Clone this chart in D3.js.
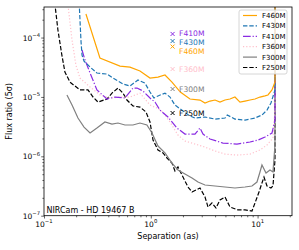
<!DOCTYPE html>
<html>
<head>
<meta charset="utf-8">
<script src="https://cdn.jsdelivr.net/npm/d3@7"></script>
<style>
body { margin: 0; background: #fff; }
text { font-family: "DejaVu Sans", sans-serif; }
</style>
</head>
<body>
<div id="chart"></div>
<script>
var width = 299;
var height = 250;
var margin = {top: 7, right: 7, bottom: 34.3, left: 44};

// filters, in legend order
var filters = ["F460M", "F430M", "F410M", "F360M", "F300M", "F250M"];
var colors = ["#ffa500", "#1f77b4", "#8a2be2", "#ffc0cb", "#808080", "#000000"];
var dashes = [null, "4.4,1.9", "7.7,1.9,1.2,1.9", "1.2,2", null, "4.4,1.9"];

// contrast curves (separation in arcsec, 5 sigma flux ratio)
var sepF460M = [0.247, 0.334, 0.515, 0.638, 0.792, 0.983, 1.168, 1.358, 1.579, 1.89, 2.328, 2.888, 3.217, 3.582, 3.992, 4.446, 4.953, 5.515, 6.138, 6.84, 7.62, 8.49, 9.46, 10.53, 11.73, 12.51, 13.64, 14.55, 14.6];
var fluxF460M = [2.49e-4, 4.52e-5, 3.31e-5, 3.18e-5, 2.73e-5, 2.08e-5, 2.16e-5, 2.34e-5, 1.78e-5, 1.21e-5, 9.22e-6, 8.87e-6, 7.89e-6, 8.53e-6, 8.87e-6, 8.2e-6, 8.87e-6, 9.22e-6, 9.96e-6, 8.2e-6, 8.53e-6, 8.87e-6, 9.22e-6, 9.96e-6, 1.04e-5, 1.08e-5, 1.31e-5, 1.78e-5, 1e-2];

var sepF430M = [0.212, 0.222, 0.227, 0.237, 0.27, 0.313, 0.389, 0.443, 0.549, 0.638, 0.759, 0.882, 0.983, 1.071, 1.168, 1.358, 1.513, 1.685, 2.002, 2.328, 2.594, 3.217, 3.992, 4.953, 5.2, 6.138, 7.62, 9.46, 10.99, 12.25, 13.34, 14.55, 14.6];
var fluxF430M = [5e-4, 8.73e-5, 5.07e-5, 4.02e-5, 3.18e-5, 2.53e-5, 2.43e-5, 2.08e-5, 1.65e-5, 1.53e-5, 1.93e-5, 1.71e-5, 1.21e-5, 9.58e-6, 1.04e-5, 1.16e-5, 9.96e-6, 7.3e-6, 5.79e-6, 4.77e-6, 4.41e-6, 4.59e-6, 4.24e-6, 4.41e-6, 4.96e-6, 4.24e-6, 4.08e-6, 4.41e-6, 4.96e-6, 6.01e-6, 7.89e-6, 1.31e-5, 1e-2];

var sepF410M = [0.227, 0.242, 0.27, 0.313, 0.389, 0.462, 0.573, 0.681, 0.743, 0.845, 0.983, 1.095, 1.219, 1.449, 1.758, 2.089, 2.594, 2.888, 3.083, 3.582, 4.742, 6.412, 8.49, 10.09, 11.73, 13.64, 14.55, 14.6];
var fluxF410M = [6.17e-5, 4.18e-5, 2.53e-5, 1.31e-5, 9.22e-6, 9.96e-6, 9.58e-6, 1.41e-5, 1.41e-5, 1.26e-5, 9.58e-6, 8.2e-6, 6.01e-6, 4.59e-6, 2.99e-6, 2.37e-6, 2.37e-6, 2.99e-6, 2.37e-6, 1.96e-6, 1.67e-6, 1.61e-6, 1.74e-6, 1.88e-6, 2.11e-6, 2.47e-6, 4.08e-6, 1e-2];

var sepF360M = [0.164, 0.183, 0.199, 0.217, 0.27, 0.334, 0.415, 0.515, 0.638, 0.792, 0.983, 1.143, 1.301, 1.513, 1.797, 2.089, 2.432, 3.217, 3.992, 4.953, 6.412, 8.49, 10.53, 12.25, 13.93, 14.55, 14.6];
var fluxF360M = [5e-4, 9.08e-5, 3.44e-5, 2.08e-5, 1.47e-5, 1.08e-5, 9.58e-6, 9.96e-6, 9.96e-6, 1.16e-5, 7.3e-6, 6.5e-6, 5.57e-6, 3.78e-6, 2.28e-6, 1.81e-6, 1.67e-6, 1.43e-6, 1.23e-6, 1.09e-6, 1.05e-6, 1.09e-6, 1.28e-6, 1.55e-6, 2.03e-6, 6.01e-6, 1e-2];

var sepF300M = [0.164, 0.183, 0.208, 0.237, 0.27, 0.313, 0.372, 0.433, 0.493, 0.573, 0.681, 0.792, 0.92, 1.026, 1.168, 1.358, 1.579, 1.797, 2.089, 2.432, 2.767, 3.217, 3.992, 4.953, 6.138, 7.62, 8.86, 9.87, 10.53, 10.99, 11.99, 13.06, 13.93, 14.55, 14.6];
var fluxF300M = [1.08e-5, 7.3e-6, 4.41e-6, 3.11e-6, 2.47e-6, 2.99e-6, 3.78e-6, 3.5e-6, 3.64e-6, 3.37e-6, 3.37e-6, 3.64e-6, 3.37e-6, 2.47e-6, 1.49e-6, 1.14e-6, 7.71e-7, 5.88e-7, 5.04e-7, 4.31e-7, 3.69e-7, 3.29e-7, 3.16e-7, 3.04e-7, 2.93e-7, 3.04e-7, 3.16e-7, 3.69e-7, 5.44e-7, 7.14e-7, 5.24e-7, 5.88e-7, 5.44e-7, 1.55e-6, 1e-2];

var sepF250M = [0.124, 0.135, 0.147, 0.157, 0.175, 0.217, 0.258, 0.288, 0.32, 0.389, 0.433, 0.493, 0.549, 0.598, 0.681, 0.792, 0.902, 0.983, 1.049, 1.168, 1.301, 1.418, 1.579, 1.685, 1.797, 2.002, 2.23, 2.432, 2.65, 2.888, 3.217, 3.433, 3.741, 4.078, 4.446, 4.953, 5.515, 6.554, 7.62, 8.86, 9.46, 10.31, 10.99, 11.48, 12.25, 13.34, 13.93, 14.55, 14.6];
var fluxF250M = [5e-4, 1.34e-4, 5.07e-5, 2.63e-5, 1.78e-5, 1.31e-5, 1.31e-5, 9.96e-6, 8.2e-6, 9.22e-6, 1.16e-5, 1.41e-5, 1.16e-5, 8.87e-6, 7.03e-6, 6.76e-6, 5.57e-6, 3.78e-6, 1.88e-6, 1.28e-6, 1.14e-6, 9.36e-7, 7.71e-7, 5.66e-7, 6.61e-7, 4.48e-7, 3.04e-7, 2.51e-7, 2.71e-7, 2.93e-7, 2.07e-7, 1.4e-7, 1.64e-7, 1.35e-7, 1.84e-7, 2.07e-7, 1.4e-7, 1.25e-7, 1.25e-7, 1.2e-7, 1.64e-7, 2.51e-7, 3.55e-7, 4.48e-7, 3.16e-7, 2.93e-7, 3.16e-7, 8.67e-7, 1e-2];

// HD 19467 B flux ratio per filter (same order as filters)
var planetSep = 1.6;
var planetFlux = [7.05e-5, 8.73e-5, 1.15e-4, 2.95e-5, 1.36e-5, 5.36e-6];

var xMajor = [0.1, 1, 10];
var xMajorLabels = ["\u22121", "0", "1"];
var yMajor = [1e-7, 1e-6, 1e-5, 1e-4];
var yMajorLabels = ["\u22127", "\u22126", "\u22125", "\u22124"];

var seps = [sepF460M, sepF430M, sepF410M, sepF360M, sepF300M, sepF250M];
var fluxes = [fluxF460M, fluxF430M, fluxF410M, fluxF360M, fluxF300M, fluxF250M];
var series = filters.map(function(f, i){
    return {name: f, color: colors[i], dash: dashes[i],
        points: seps[i].map(function(s, j){ return [s, fluxes[i][j]]; })};
});

var svg = d3.select("#chart")
    .append("svg")
    .attr("width", width)
    .attr("height", height);

var x = d3.scaleLog().domain([0.1, 21]).range([margin.left, width - margin.right]);
var y = d3.scaleLog().domain([1e-7, 3.27e-4]).range([height - margin.bottom, margin.top]);

svg.append("clipPath").attr("id", "clip")
    .append("rect")
    .attr("x", margin.left).attr("y", margin.top)
    .attr("width", width - margin.left - margin.right)
    .attr("height", height - margin.top - margin.bottom);

// minor ticks
function minors(lo, hi){
    var out = [];
    for (var e = Math.floor(Math.log10(lo)); e <= Math.ceil(Math.log10(hi)); e++){
        for (var m = 2; m <= 9; m++){
            var v = m * Math.pow(10, e);
            if (v >= lo && v <= hi) out.push(v);
        }
    }
    return out;
}

var xAxisG = svg.append("g").attr("transform", "translate(0," + y.range()[0] + ")");
xAxisG.append("g").call(d3.axisBottom(x).tickValues(minors(0.1, 21)).tickSize(1.6).tickFormat(""));
xAxisG.append("g").call(d3.axisBottom(x).tickValues(xMajor).tickSize(2.8).tickFormat(""));
xAxisG.selectAll(".domain").remove();
xAxisG.selectAll("line").attr("stroke", "#000").attr("stroke-width", 0.6);

var yAxisG = svg.append("g").attr("transform", "translate(" + x.range()[0] + ",0)");
yAxisG.append("g").call(d3.axisLeft(y).tickValues(minors(1e-7, 3.27e-4)).tickSize(1.6).tickFormat(""));
yAxisG.append("g").call(d3.axisLeft(y).tickValues(yMajor).tickSize(2.8).tickFormat(""));
yAxisG.selectAll(".domain").remove();
yAxisG.selectAll("line").attr("stroke", "#000").attr("stroke-width", 0.6);

// tick labels with superscript exponents
xMajor.forEach(function(v, i){
    var t = svg.append("text")
        .attr("x", x(v)).attr("y", 226.5)
        .attr("text-anchor", "middle")
        .attr("font-size", "7.5px");
    t.append("tspan").text("10");
    t.append("tspan").attr("dy", -3.5).attr("font-size", "5.3px").text(xMajorLabels[i]);
});
yMajor.forEach(function(v, i){
    var t = svg.append("text")
        .attr("x", 40).attr("y", y(v) + 3)
        .attr("text-anchor", "end")
        .attr("font-size", "7.5px");
    t.append("tspan").text("10");
    t.append("tspan").attr("dy", -3.5).attr("font-size", "5.3px").text(yMajorLabels[i]);
});

svg.append("text")
    .attr("x", (x.range()[0] + x.range()[1]) / 2).attr("y", 239)
    .attr("text-anchor", "middle")
    .attr("font-size", "8px")
    .text("Separation (as)");

svg.append("text")
    .attr("transform", "translate(12," + (y.range()[0] + y.range()[1]) / 2 + ") rotate(-90)")
    .attr("text-anchor", "middle")
    .attr("font-size", "8px")
    .text("Flux ratio (5\u03c3)");

// contrast curves
var line = d3.line()
    .x(function(d){ return x(d[0]); })
    .y(function(d){ return y(d[1]); });

svg.append("g").attr("clip-path", "url(#clip)")
    .selectAll("path")
    .data(series.slice().reverse())
    .enter()
    .append("path")
    .attr("d", function(d){ return line(d.points); })
    .attr("fill", "none")
    .attr("stroke", function(d){ return d.color; })
    .attr("stroke-width", 1.2)
    .attr("stroke-dasharray", function(d){ return d.dash; });

// planet markers and labels (small nudges keep the three top labels apart)
var labelNudge = {F460M: 4.5, F430M: 0.8, F410M: -1.2};
filters.forEach(function(f, i){
    var px = x(planetSep), py = y(planetFlux[i]);
    svg.append("path")
        .attr("d", "M" + (px - 2) + "," + (py - 2) + "L" + (px + 2) + "," + (py + 2) +
                   "M" + (px - 2) + "," + (py + 2) + "L" + (px + 2) + "," + (py - 2))
        .attr("stroke", colors[i])
        .attr("stroke-width", 1);
    svg.append("text")
        .attr("x", px + 6.5).attr("y", py + 3 + (labelNudge[f] || 0))
        .attr("font-size", "7.6px")
        .attr("fill", colors[i])
        .text(f);
});

svg.append("text")
    .attr("x", 46.5).attr("y", 213)
    .attr("font-size", "8px")
    .text("NIRCam - HD 19467 B");

// frame
svg.append("rect")
    .attr("x", x.range()[0]).attr("y", y.range()[1])
    .attr("width", x.range()[1] - x.range()[0])
    .attr("height", y.range()[0] - y.range()[1])
    .attr("fill", "none")
    .attr("stroke", "#000")
    .attr("stroke-width", 0.8);

// legend
var legend = svg.append("g");
legend.append("rect")
    .attr("x", 239).attr("y", 10)
    .attr("width", 48).attr("height", 64)
    .attr("rx", 2)
    .attr("fill", "#fff").attr("fill-opacity", 0.8)
    .attr("stroke", "#ccc").attr("stroke-width", 0.8);
var items = legend.selectAll("g.item")
    .data(series)
    .enter()
    .append("g")
    .attr("transform", function(d, i){ return "translate(0," + (15.5 + i * 10.4) + ")"; });
items.append("line")
    .attr("x1", 243).attr("x2", 257)
    .attr("stroke", function(d){ return d.color; })
    .attr("stroke-width", 1.2)
    .attr("stroke-dasharray", function(d){ return d.dash; });
items.append("text")
    .attr("x", 262).attr("y", 2.5)
    .attr("font-size", "7px")
    .text(function(d){ return d.name; });
</script>
</body>
</html>
